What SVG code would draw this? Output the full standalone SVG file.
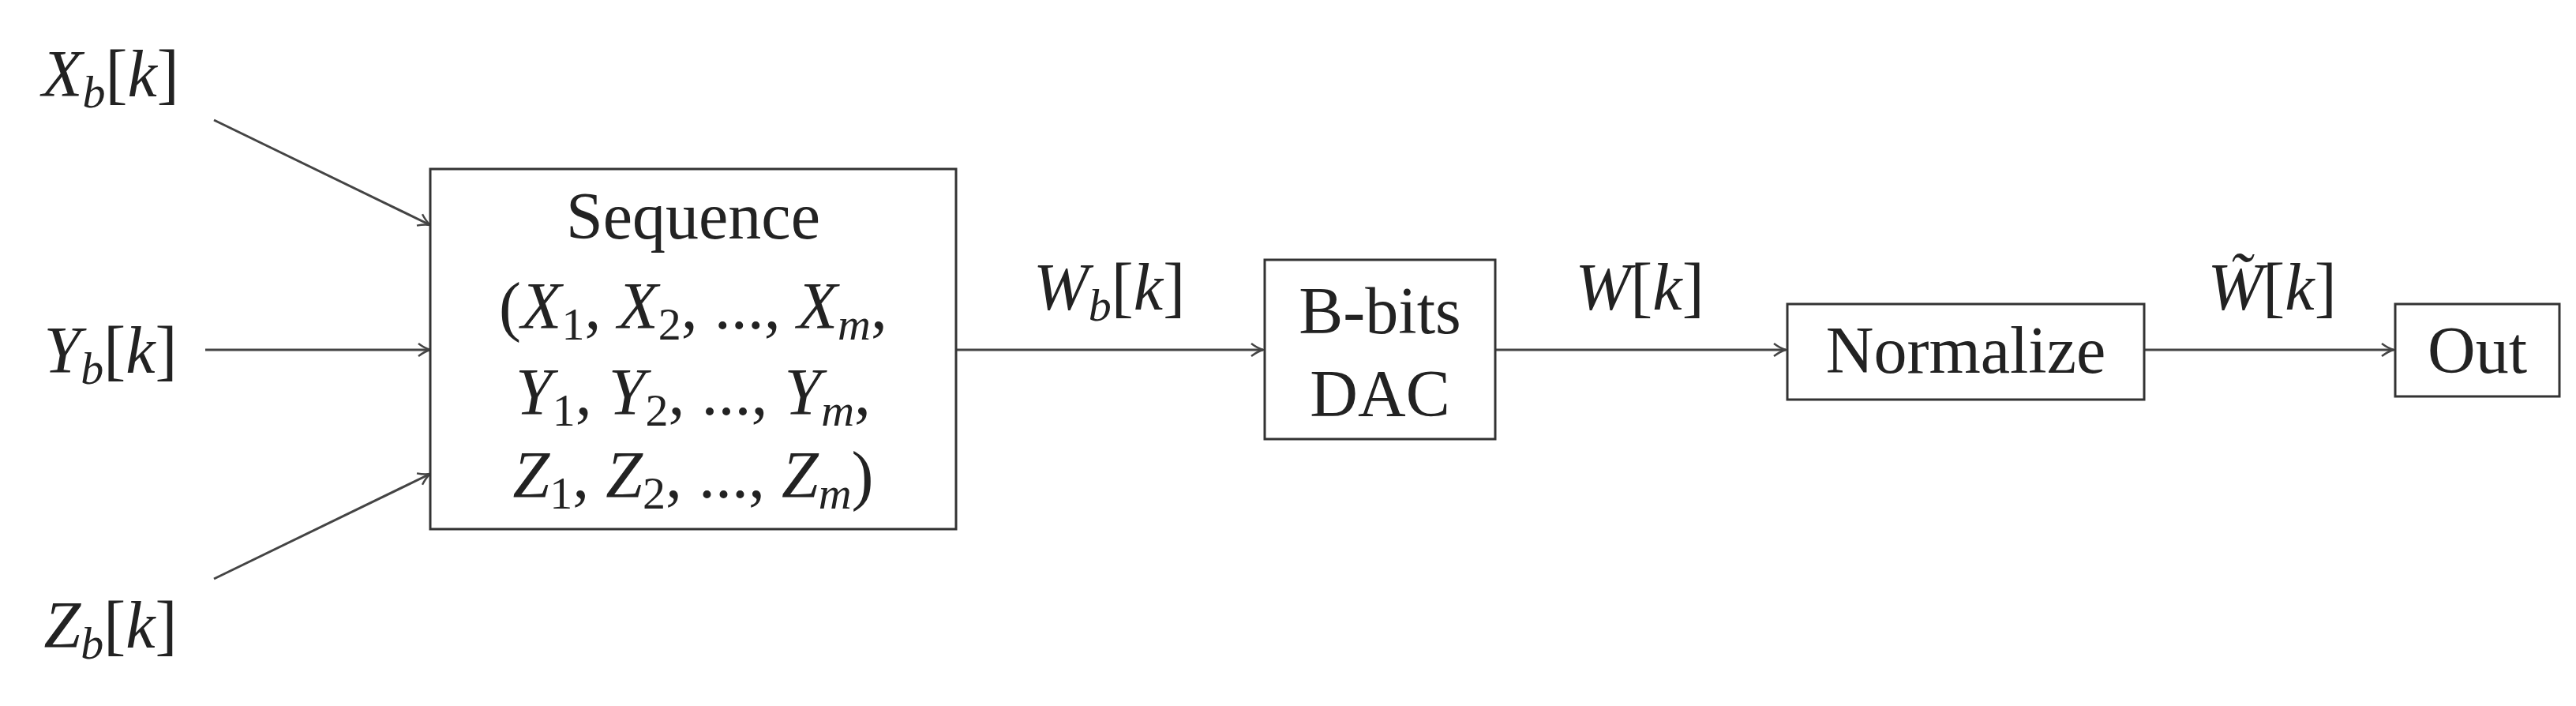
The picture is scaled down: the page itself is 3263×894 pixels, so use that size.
<svg xmlns="http://www.w3.org/2000/svg" width="3263" height="894" viewBox="0 0 3263 894">
<style>
text{font-family:'Liberation Serif','Times New Roman','DejaVu Serif',serif;font-size:84px;fill:#222;text-anchor:middle}
.m{font-style:italic}
.s{font-size:58px}
.box{fill:#fff;stroke:#333;stroke-width:3}
.c{stroke:#444;stroke-width:3;fill:none;marker-end:url(#a)}
</style>
<defs><marker id="a" viewBox="0 0 20 20" refX="19" refY="10" markerWidth="20" markerHeight="20" markerUnits="userSpaceOnUse" orient="auto"><path d="M4 2 Q12 8 19 10 Q12 12 4 18" fill="none" stroke="#444" stroke-width="2.5"/></marker></defs>
<g id="connectors">
<line class="c" x1="271" y1="152" x2="545" y2="285"/>
<line class="c" x1="260" y1="443" x2="545" y2="443"/>
<line class="c" x1="271" y1="733" x2="545" y2="600"/>
<line class="c" x1="1211" y1="443" x2="1600" y2="443"/>
<line class="c" x1="1894" y1="443" x2="2262" y2="443"/>
<line class="c" x1="2716" y1="443" x2="3032" y2="443"/>
</g>
<g id="Xb"><text x="140" y="122"><tspan class="m">X</tspan><tspan class="m s" dy="14">b</tspan><tspan dy="-14">[</tspan><tspan class="m">k</tspan>]</text></g>
<g id="Yb"><text x="140" y="472"><tspan class="m">Y</tspan><tspan class="m s" dy="14">b</tspan><tspan dy="-14">[</tspan><tspan class="m">k</tspan>]</text></g>
<g id="Zb"><text x="140" y="820"><tspan class="m">Z</tspan><tspan class="m s" dy="14">b</tspan><tspan dy="-14">[</tspan><tspan class="m">k</tspan>]</text></g>
<g id="sequence"><rect class="box" x="545" y="214" width="666" height="456"/>
<text x="878" y="302">Sequence</text>
<text x="878" y="416">(<tspan class="m">X</tspan><tspan class="s" dy="14">1</tspan><tspan dy="-14">, </tspan><tspan class="m">X</tspan><tspan class="s" dy="14">2</tspan><tspan dy="-14">, ..., </tspan><tspan class="m">X</tspan><tspan class="m s" dy="14">m</tspan><tspan dy="-14">,</tspan></text>
<text x="878" y="525"><tspan class="m">Y</tspan><tspan class="s" dy="14">1</tspan><tspan dy="-14">, </tspan><tspan class="m">Y</tspan><tspan class="s" dy="14">2</tspan><tspan dy="-14">, ..., </tspan><tspan class="m">Y</tspan><tspan class="m s" dy="14">m</tspan><tspan dy="-14">,</tspan></text>
<text x="878" y="630"><tspan class="m">Z</tspan><tspan class="s" dy="14">1</tspan><tspan dy="-14">, </tspan><tspan class="m">Z</tspan><tspan class="s" dy="14">2</tspan><tspan dy="-14">, ..., </tspan><tspan class="m">Z</tspan><tspan class="m s" dy="14">m</tspan><tspan dy="-14">)</tspan></text>
</g>
<g id="Wb"><text x="1405" y="392"><tspan class="m">W</tspan><tspan class="m s" dy="14">b</tspan><tspan dy="-14">[</tspan><tspan class="m">k</tspan>]</text></g>
<g id="dac"><rect class="box" x="1602" y="329" width="292" height="227"/>
<text x="1748" y="422">B-bits</text><text x="1748" y="527">DAC</text></g>
<g id="W"><text x="2077" y="392"><tspan class="m">W</tspan>[<tspan class="m">k</tspan>]</text></g>
<g id="normalize"><rect class="box" x="2264" y="385" width="452" height="121"/><text x="2490" y="472">Normalize</text></g>
<g id="Wt"><text x="2878" y="392"><tspan class="m">W̃</tspan>[<tspan class="m">k</tspan>]</text></g>
<g id="out"><rect class="box" x="3034" y="385" width="208" height="117"/><text x="3138" y="472">Out</text></g>
</svg>
